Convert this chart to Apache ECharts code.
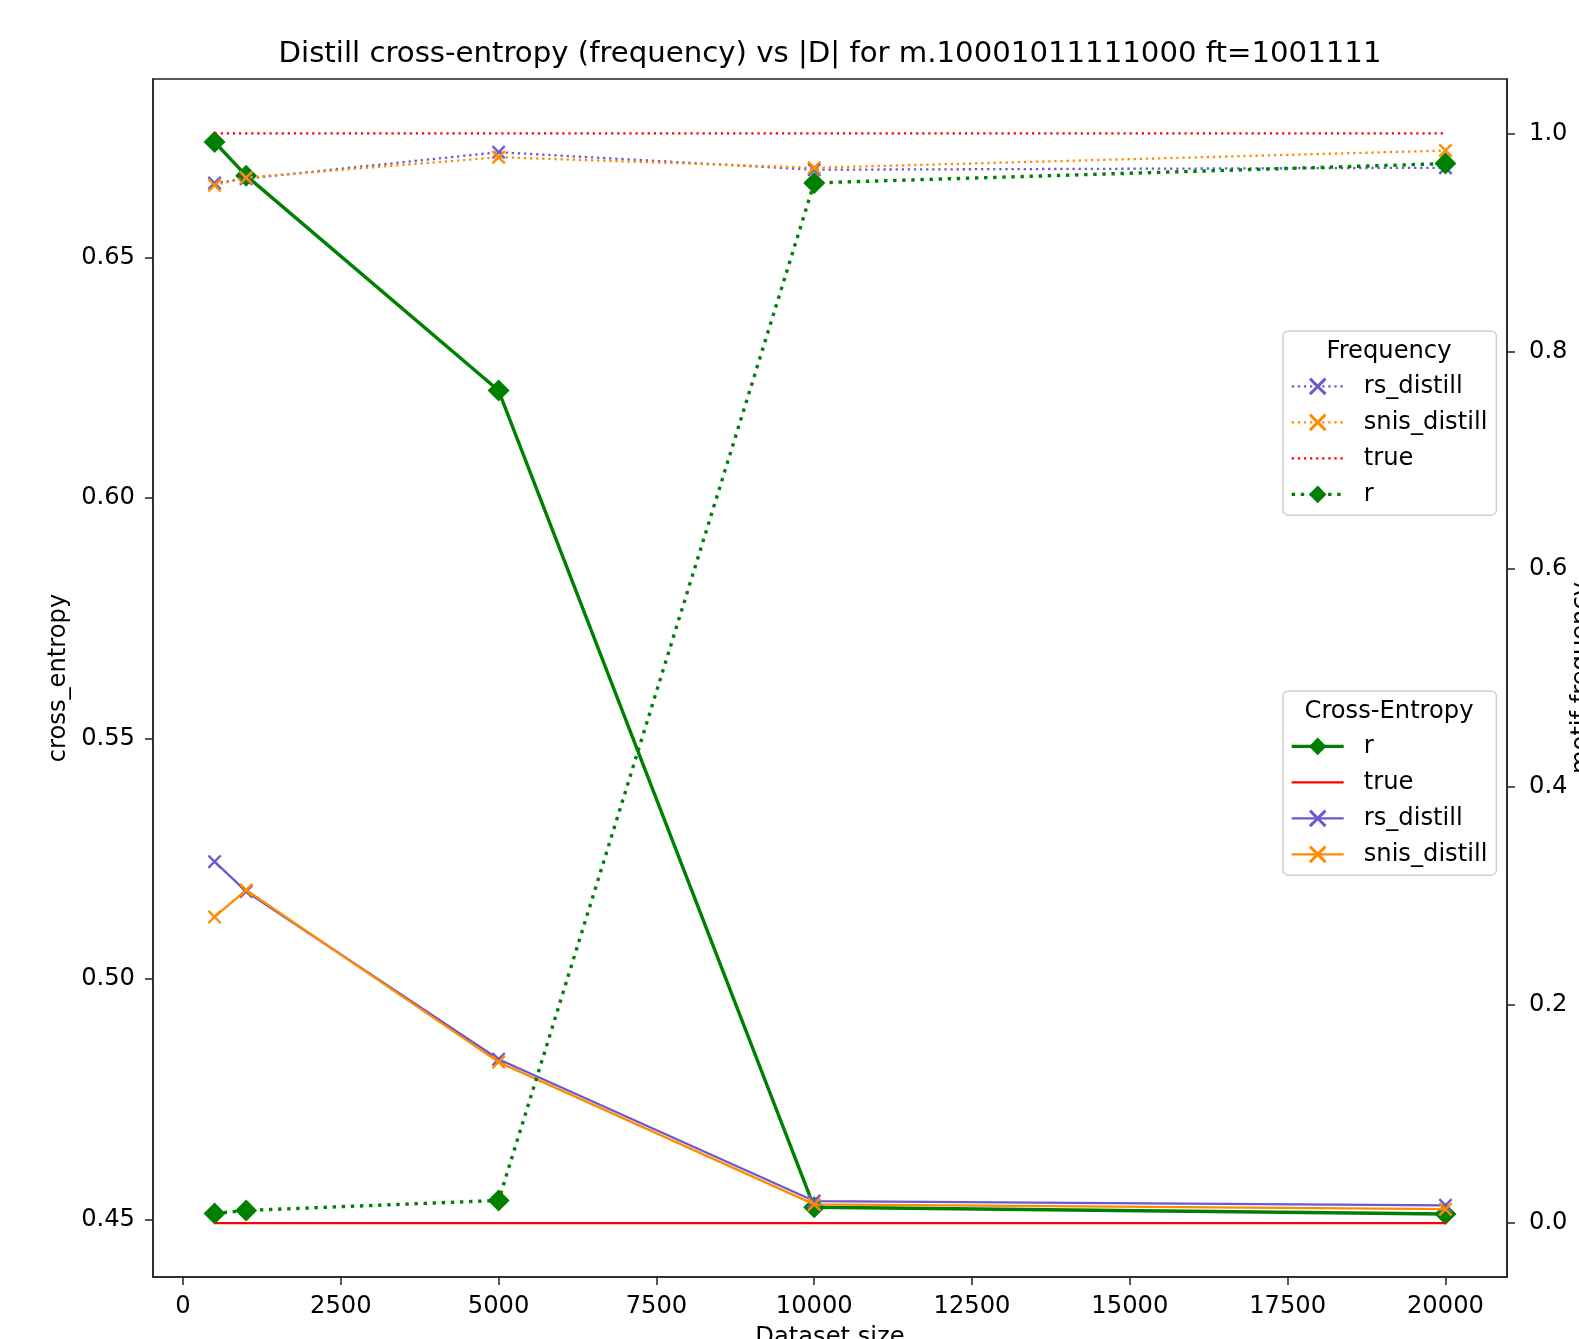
<!DOCTYPE html>
<html>
<head>
<meta charset="utf-8">
<script src="https://cdn.jsdelivr.net/npm/echarts@6/dist/echarts.min.js"></script>
<style>
html, body { margin: 0; padding: 0; background: #fff; }
#main { width: 1579px; height: 1339px; }
</style>
</head>
<body>
<div id="main"></div>
<script>
// dataset sizes |D|
const sizes = [500, 1000, 5000, 10000, 20000];
// cross-entropy (left axis)
const ceR = [0.6741, 0.6671, 0.6224, 0.4525, 0.4511];
const ceTrue = [0.4492, 0.4492, 0.4492, 0.4492, 0.4492];
const ceRs = [0.5244, 0.5182, 0.4833, 0.4538, 0.4529];
const ceSnis = [0.5129, 0.5185, 0.4827, 0.4531, 0.4521];
// motif frequency (right axis)
const freqRs = [0.9545, 0.9585, 0.9828, 0.9667, 0.9685];
const freqSnis = [0.9525, 0.9595, 0.9782, 0.9685, 0.9843];
const freqTrue = [1.0, 1.0, 1.0, 1.0, 1.0];
const freqR = [0.0083, 0.0111, 0.0203, 0.9546, 0.9723];
// tick labels
const xTicks = [0, 2500, 5000, 7500, 10000, 12500, 15000, 17500, 20000];
const ceTicks = [0.45, 0.50, 0.55, 0.60, 0.65];
const freqTicks = [0.0, 0.2, 0.4, 0.6, 0.8, 1.0];

const FONT = "DejaVu Sans";
const FS = 24.2;
const GREEN = "#008000", RED = "#ff0000", PURPLE = "#6a5acd", ORANGE = "#ff8c00";
const XMARK = "path://M0,1.2L1.2,0L5,3.8L8.8,0L10,1.2L6.2,5L10,8.8L8.8,10L5,6.2L1.2,10L0,8.8L3.8,5Z";
const AXIS = "#222";

function pts(arr) {
    return sizes.map((x, i) => [x, arr[i]]);
}

function line(name, arr, color, yIdx, opts) {
    return {
        name: name,
        type: "line",
        yAxisIndex: yIdx,
        data: pts(arr),
        symbol: opts.symbol || "circle",
        symbolSize: opts.size || 14,
        showSymbol: !!opts.symbol,
        // no marker -> transparent fill so the legend shows only the line
        itemStyle: { color: opts.symbol ? color : "transparent" },
        lineStyle: { color: color, width: opts.width, type: opts.dash || "solid" },
        z: opts.z || 2,
        emphasis: { disabled: true },
    };
}

const myChart = echarts.init(document.getElementById("main"));

const legendBase = {
    orient: "vertical",
    left: 1283,
    itemWidth: 52,
    itemHeight: 22,
    itemGap: 12,
    padding: [43.4, 9, 8.8, 7],
    borderColor: "#d0d0d0",
    borderWidth: 1.5,
    borderRadius: 5,
    backgroundColor: "rgba(255,255,255,0.8)",
    textStyle: { fontFamily: FONT, fontSize: FS, color: "#000", padding: [0, 0, 0, 15] },
    itemStyle: { borderWidth: 0 },
    lineStyle: { width: "inherit" },
    formatter: (name) => name.slice(3),
    z: 20,
};

const tickStyle = { color: AXIS, width: 1.5 };

let option = {
    animation: false,
    backgroundColor: "#fff",
    title: {
        text: "Distill cross-entropy (frequency) vs |D| for m.10001011111000 ft=1001111",
        left: 830,
        top: 40,
        textAlign: "center",
        padding: 0,
        textStyle: { fontFamily: FONT, fontSize: 29.2, fontWeight: "normal", color: "#000" },
    },
    grid: {
        left: 153,
        right: 72,
        top: 79,
        bottom: 62,
        outerBoundsMode: "none",
        containLabel: false,
        show: true,
        borderColor: AXIS,
        borderWidth: 1.5,
        backgroundColor: "transparent",
    },
    legend: [
        Object.assign({}, legendBase, {
            top: 331,
            data: ["fr:rs_distill", "fr:snis_distill", "fr:true", "fr:r"],
        }),
        Object.assign({}, legendBase, {
            top: 691,
            data: ["ce:r", "ce:true", "ce:rs_distill", "ce:snis_distill"],
        }),
    ],
    graphic: [
        {
            type: "text", x: 1389, y: 352, z: 100,
            style: { text: "Frequency", align: "center", verticalAlign: "middle", fontFamily: FONT, fontSize: FS, fill: "#000" },
        },
        {
            type: "text", x: 1389, y: 712, z: 100,
            style: { text: "Cross-Entropy", align: "center", verticalAlign: "middle", fontFamily: FONT, fontSize: FS, fill: "#000" },
        },
    ],
    xAxis: {
        type: "value",
        min: -475,
        max: 20975,
        name: "Dataset size",
        nameLocation: "middle",
        nameGap: 49,
        nameTextStyle: { fontFamily: FONT, fontSize: FS, color: "#000" },
        axisLine: { show: true, onZero: false, lineStyle: tickStyle },
        axisTick: { show: true, length: 8, lineStyle: tickStyle, customValues: xTicks },
        axisLabel: { fontFamily: FONT, fontSize: FS, color: "#000", margin: 18, customValues: xTicks, formatter: (v) => String(v) },
        splitLine: { show: false },
    },
    yAxis: [
        {
            type: "value",
            min: 0.438,
            max: 0.6872,
            name: "cross_entropy",
            nameLocation: "middle",
            nameRotate: 90,
            nameGap: 80,
            nameTextStyle: { fontFamily: FONT, fontSize: FS, color: "#000" },
            axisLine: { show: true, onZero: false, lineStyle: tickStyle },
            axisTick: { show: true, length: 8, lineStyle: tickStyle, customValues: ceTicks },
            axisLabel: { fontFamily: FONT, fontSize: FS, color: "#000", margin: 18, customValues: ceTicks, formatter: (v) => v.toFixed(2) },
            splitLine: { show: false },
        },
        {
            type: "value",
            position: "right",
            min: -0.05,
            max: 1.05,
            name: "motif frequency",
            nameLocation: "middle",
            nameRotate: 90,
            nameGap: 63,
            nameMoveOverlap: false,
            nameTextStyle: { fontFamily: FONT, fontSize: FS, color: "#000" },
            axisLine: { show: true, onZero: false, lineStyle: tickStyle },
            axisTick: { show: true, length: 8, lineStyle: tickStyle, customValues: freqTicks },
            axisLabel: { fontFamily: FONT, fontSize: FS, color: "#000", margin: 22, customValues: freqTicks, formatter: (v) => v.toFixed(1) },
            splitLine: { show: false },
        },
    ],
    series: [
        line("ce:r", ceR, GREEN, 0, { symbol: "diamond", size: 22, width: 3.4, z: 2 }),
        line("ce:true", ceTrue, RED, 0, { width: 2.3, z: 3 }),
        line("ce:rs_distill", ceRs, PURPLE, 0, { symbol: XMARK, size: 14, width: 2.3, z: 4 }),
        line("ce:snis_distill", ceSnis, ORANGE, 0, { symbol: XMARK, size: 14, width: 2.3, z: 5 }),
        line("fr:rs_distill", freqRs, PURPLE, 1, { symbol: XMARK, size: 14, width: 2.3, dash: [2.3, 3.8], z: 6 }),
        line("fr:snis_distill", freqSnis, ORANGE, 1, { symbol: XMARK, size: 14, width: 2.3, dash: [2.3, 3.8], z: 7 }),
        line("fr:true", freqTrue, RED, 1, { width: 2.3, dash: [2.3, 3.8], z: 8 }),
        line("fr:r", freqR, GREEN, 1, { symbol: "diamond", size: 22, width: 3.4, dash: [3.4, 5.7], z: 9 }),
    ],
};
myChart.setOption(option);
</script>
</body>
</html>
